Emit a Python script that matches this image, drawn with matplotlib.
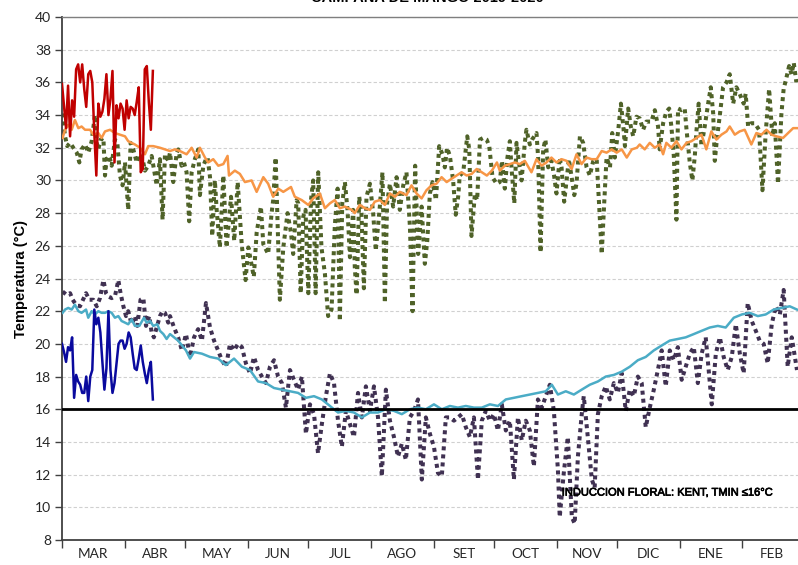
import matplotlib
matplotlib.use("Agg")
import matplotlib.pyplot as plt
import matplotlib.patheffects as pe

# ---------------- DATA (days counted from 1 March) ----------------
months = ["MAR", "ABR", "MAY", "JUN", "JUL", "AGO", "SET", "OCT", "NOV", "DIC", "ENE", "FEB"]
month_start = [0, 31, 61, 92, 122, 153, 184, 214, 245, 275, 306, 337, 366]

# Tmax historical (orange)
tmax_hist_day = [0.3, 1.5, 3.1, 4.8, 6.4, 8.1, 9.7, 11.4, 13.9, 15.5, 18.0, 19.6, 21.3, 23.8, 26.2, 28.7,
                 31.2, 32.8, 36.1, 38.6, 41.1, 42.7, 45.2, 48.5, 51.0, 53.5, 55.9, 58.4, 61.7, 64.2, 66.7, 68.3,
                 70.8, 72.4, 74.9, 77.4, 79.9, 82.0, 82.7, 85.6, 88.1, 90.6, 93.9, 96.4, 99.7, 102.1, 104.6,
                 107.1, 109.6, 113.4, 115.3, 118.7, 122.0, 124.4, 127.7, 130.2, 132.7, 135.1, 137.6, 140.1, 143.4,
                 145.0, 147.5, 150.0, 152.5, 154.9, 157.4, 159.9, 162.4, 164.9, 167.3, 170.6, 173.1, 175.6,
                 178.1, 180.5, 183.0, 185.5, 188.0, 190.5, 192.9, 195.4, 197.9, 200.4, 202.9, 205.4, 207.9,
                 210.4, 212.9, 215.4,
                 216.8, 219.3, 221.8, 224.3, 226.7, 229.2, 232.5, 235.0, 237.5, 239.9, 242.4, 244.9, 247.4,
                 249.9, 252.4, 254.8, 257.3, 259.8, 262.3, 264.8, 267.3, 269.7, 272.2, 274.7, 277.2, 279.7,
                 282.2, 284.7,
                 286.1, 288.6, 291.1, 293.6, 296.0, 297.7, 299.3, 301.8, 304.3, 306.8, 309.3, 311.7, 314.2,
                 316.7, 319.1, 321.6, 324.1, 326.6, 329.1, 330.7, 333.2, 335.6, 338.1, 341.4, 343.9, 346.4,
                 348.9, 351.4, 353.8, 357.1, 359.6, 362.1, 364.4]
tmax_hist = [32.6, 33.1, 33.4, 33.1, 33.7, 33.2, 33.3, 33.1, 33.1, 32.8, 32.9, 32.6, 33.0, 33.1, 32.9, 32.8,
             32.7, 32.4, 32.2, 32.0, 31.6, 32.1, 32.1, 32.0, 31.9, 31.8, 31.9, 31.8, 31.6, 32.0, 31.4, 32.0,
             31.4, 31.1, 31.3, 30.9, 31.0, 31.5, 30.3, 30.6, 30.4, 29.9, 30.0, 29.3, 30.2, 29.8, 29.0,
             29.5, 29.3, 29.6, 29.0, 28.8, 28.5, 28.9, 29.2, 28.3, 28.6, 28.8, 28.3, 28.4, 28.2,
             28.0, 28.5, 28.3, 28.2, 28.7, 28.8, 28.5, 29.2, 29.0, 29.3, 29.1, 29.7, 29.2,
             28.9, 29.4, 29.7, 29.8, 30.2, 29.9, 30.1, 30.3, 30.5, 30.3, 30.4, 30.7, 30.5,
             30.3, 30.6, 31.1,
             30.6, 30.9, 31.0, 31.1, 31.0, 31.2, 30.5, 31.3, 30.9, 31.1, 31.4, 31.1, 31.3,
             31.2, 30.7, 31.6, 31.0, 31.4, 31.3, 31.3, 31.8, 31.7, 31.9, 31.7, 31.9, 31.4,
             31.9, 32.0,
             32.2, 31.9, 32.3, 32.0, 32.2, 31.6, 32.3, 32.0, 32.4, 31.9, 32.3, 32.4, 32.6,
             32.8, 31.9, 33.0, 32.5, 32.8, 33.0, 33.3, 32.8, 33.0, 33.1, 32.2, 32.9, 32.8,
             33.1, 32.8, 32.7, 32.6, 32.9, 33.2, 33.2]

# Tmax current season (green dotted)
tmax_cur_day = [0.3, 1.5, 2.6, 4.0, 5.6, 7.3, 8.6, 9.7, 11.4, 13.0, 14.7, 16.3, 17.2, 18.0, 19.1, 20.5, 21.3,
                22.1, 23.4, 24.6, 26.2, 27.4, 28.7, 30.0, 31.2, 32.8, 34.0, 35.3, 37.0, 38.3, 39.9, 41.1, 42.7,
                44.4, 45.5, 46.9, 48.5, 49.8, 51.0, 52.6, 53.5, 55.1, 56.8, 57.6, 59.2, 60.4, 61.7, 63.0, 64.2,
                65.8, 67.5, 68.3, 70.0, 71.3,
                72.1, 73.3, 74.4, 75.7, 76.6, 78.2, 79.9, 81.5, 83.7, 85.3, 87.0, 89.0, 90.9, 92.3, 95.0, 96.4,
                98.5, 99.7, 102.1, 103.8, 104.6, 105.8, 106.8, 107.9, 109.6, 111.7, 113.4, 114.5, 116.2, 117.0,
                118.2, 119.5, 120.6, 122.0, 123.3, 124.4, 125.6, 126.9, 128.5, 130.2, 131.8, 133.5, 135.1,
                136.5, 137.6, 138.8, 140.1, 141.4, 142.6, 144.2,
                145.0, 145.9, 147.2, 148.3, 149.5, 150.8, 152.5, 154.1, 155.4, 157.4, 158.7, 159.9, 161.0,
                162.4, 164.0, 165.7, 167.3, 169.0, 170.6, 172.3, 173.6, 174.9, 176.4, 178.1, 179.7, 180.9,
                182.2, 183.5, 185.2, 186.8, 188.4, 189.6, 190.7, 192.1, 193.7, 195.0, 196.2, 197.0, 198.7,
                200.7, 201.7, 202.8, 204.5, 205.6, 207.0, 208.6, 210.3, 211.6, 213.2, 215.2,
                216.8, 217.9, 219.3, 220.6, 221.8, 222.6, 224.0, 225.1, 226.2, 227.6, 229.2, 230.0, 231.7,
                232.8, 235.0, 235.8, 237.0, 238.3, 239.4, 240.8, 242.4, 243.7, 244.9, 246.5, 247.4, 248.7,
                249.9, 251.0, 252.4, 253.7, 254.8, 256.5, 258.1, 259.8, 261.4, 263.1, 264.8, 265.9, 267.3,
                268.6, 269.7, 271.4, 272.5, 273.8, 275.5, 276.8, 278.0, 278.8, 280.4, 281.7, 282.9, 284.5,
                286.1, 287.8, 289.4, 291.9, 293.6, 295.2, 296.0, 297.7, 299.3, 300.7, 301.8, 303.0, 304.3,
                305.1, 306.8, 308.4, 309.3, 310.9, 312.2, 313.4, 314.2, 315.3, 316.7, 318.3, 320.0, 321.3,
                322.5, 323.3, 324.4, 325.7, 327.4, 329.1, 330.7, 332.4, 334.0, 335.6, 337.6, 338.6, 339.8,
                341.4, 343.1, 345.2, 346.9, 348.5, 350.2, 351.8, 353.0, 354.6, 356.3, 357.4, 358.8, 360.1,
                361.3, 362.4, 363.7]
tmax_cur = [34.1, 32.7, 32.1, 32.3, 32.0, 31.7, 31.1, 31.9, 32.2, 31.7, 32.4, 34.0, 32.3, 31.9, 32.5, 32.6, 30.3,
            31.3, 31.5, 30.9, 32.5, 32.3, 30.3, 29.7, 31.1, 28.2, 32.3, 31.9, 31.1, 31.6, 31.3, 30.6, 30.9,
            31.5, 30.7, 29.7, 31.3, 27.6, 31.6, 31.2, 31.7, 29.9, 31.7, 31.9, 30.9, 31.1, 30.5, 27.5, 30.5,
            31.3, 31.9, 29.1, 30.9, 31.3,
            31.4, 30.2, 26.6, 30.0, 28.2, 25.9, 30.3, 25.9, 29.0, 26.3, 29.9, 26.1, 23.9, 25.9, 24.1, 26.8,
            28.4, 26.1, 25.5, 28.0, 28.8, 31.4, 27.2, 22.7, 25.9, 28.0, 26.8, 25.5, 28.8, 28.6,
            23.1, 27.8, 28.2, 23.1, 28.8, 30.0, 23.1, 30.5, 25.9, 24.3, 21.7, 22.1, 27.2,
            29.5, 21.4, 28.6, 29.9, 28.2, 25.3, 28.2,
            24.7, 23.0, 29.0, 28.0, 23.4, 29.0, 29.8, 28.0, 25.7, 28.4, 30.5, 22.5, 28.6,
            29.8, 28.4, 30.2, 28.2, 29.7, 30.5, 27.2, 22.0, 30.9, 25.5, 28.4, 24.9, 26.3,
            29.2, 29.9, 28.8, 32.1, 31.6, 30.8, 32.0, 31.5, 30.0, 27.9, 29.0, 30.3, 30.5,
            32.7, 31.9, 26.6, 29.2, 28.8, 32.5, 32.6, 32.5, 32.1, 30.2, 29.8,
            29.9, 31.2, 29.5, 31.4, 32.4, 30.8, 28.6, 32.3, 31.2, 30.0, 32.3, 33.1, 32.2,
            32.5, 32.9, 31.4, 25.6, 31.9, 32.5, 30.8, 31.2, 30.3, 29.2, 31.4, 30.8, 28.7,
            30.0, 31.3, 30.2, 29.1, 29.8, 32.7, 32.3, 30.8, 30.3, 31.2, 31.3, 28.8, 25.5,
            28.8, 31.4, 30.8, 32.9, 31.4, 33.1, 34.7, 33.3, 32.1, 34.4, 33.3, 32.7, 33.9,
            33.8, 33.1, 33.6, 33.6, 34.3, 33.3, 31.9, 33.5, 34.2, 34.4, 33.3, 31.5, 27.6,
            34.4, 34.3, 34.4, 33.1, 31.1, 30.0, 31.5, 33.0, 34.7, 32.1, 33.3, 34.7, 35.7,
            34.1, 31.2, 32.6, 33.9, 35.7, 36.0, 36.5, 34.7, 35.7, 35.3, 34.7, 35.3, 33.3,
            33.5, 33.5, 33.1, 29.4, 32.9, 35.6, 32.7, 33.5, 29.8, 34.1, 35.6, 36.3, 37.0,
            36.5, 37.2, 36.0]

# Tmax early record (red)
tmax_red_day = [0, 2, 3, 4, 5, 6, 7, 8, 9, 10, 11, 12, 13, 14, 15, 16, 17, 18, 19, 20, 21, 22, 23, 24, 25,
                26, 27, 28, 29, 30, 31, 32, 33, 34, 35, 36, 37, 38, 39, 40, 41, 42, 43, 44, 45]
tmax_red = [35.9, 33.2, 35.8, 32.7, 34.9, 33.9, 36.8, 37.1, 36.0, 37.1, 35.6, 34.5, 36.5, 36.7, 36.0, 32.9,
            30.3, 34.7, 33.9, 34.2, 35.0, 36.5, 34.0, 35.0, 36.7, 31.1, 34.6, 33.8, 34.7, 34.4, 33.1, 34.9,
            33.8, 34.5, 34.4, 34.0, 34.8, 35.7, 30.5, 30.7, 36.8, 37.0, 34.8, 33.1, 36.7]

# Tmin early record (dark blue)
tmin_blue_day = list(range(46))
tmin_blue = [20.0, 19.5, 18.9, 19.8, 19.6, 20.4, 16.7, 18.1, 17.7, 17.5, 17.0, 17.0, 18.0, 16.5, 18.0, 18.4,
             22.1, 21.2, 21.6, 20.7, 18.9, 17.2, 18.5, 22.0, 18.4, 17.0, 17.6, 18.8, 20.0, 20.2, 20.2, 19.7,
             20.0, 20.7, 20.4, 19.4, 18.5, 18.4, 19.1, 19.9, 18.9, 18.2, 17.6, 18.4, 18.9, 16.6]

# Tmin historical (cyan)
tmin_hist_day = [0.3, 1.5, 3.1, 4.8, 6.4, 8.1, 9.7, 11.9, 13.0, 14.7, 16.3, 18.0, 19.6, 21.3, 22.9, 24.6,
                 26.2, 27.9, 29.5, 31.2, 32.8, 34.5, 36.1, 38.3, 40.6, 41.9, 43.6, 45.2, 47.2, 48.5, 50.2, 51.8,
                 53.5, 57.5, 61.4, 63.4, 65.4, 69.3, 73.3, 77.3, 81.2, 85.2, 89.1, 93.1, 97.1, 101.0, 105.0,
                 108.9, 112.9, 116.9, 120.8, 124.8, 128.7, 132.7, 136.7, 140.6, 144.6, 148.5, 152.5, 156.5,
                 160.4, 164.4, 168.3, 172.3, 176.3, 180.2, 184.2, 188.1, 192.1, 196.1, 200.0, 204.0, 207.9,
                 211.9, 215.9, 219.8, 223.8, 227.7, 231.7, 235.7, 239.6, 242.6, 245.6, 249.5, 253.5, 257.4,
                 261.4, 265.4, 269.3, 273.3, 277.2, 281.2, 285.2, 289.1, 293.1, 297.0, 301.0, 305.0, 308.9,
                 312.9, 316.8, 320.8, 324.8, 328.7, 332.7, 336.7, 340.6, 344.6, 348.5, 352.5, 356.5, 360.4,
                 364.0]
tmin_hist = [21.9, 22.1, 22.2, 22.1, 22.4, 22.0, 21.9, 22.1, 21.6, 22.0, 21.8, 22.0, 21.9, 21.9, 22.0, 21.9,
             21.6, 21.7, 21.4, 21.3, 21.2, 21.5, 21.1, 21.1, 21.6, 21.3, 21.4, 21.1, 21.2, 20.8, 20.6, 20.3,
             20.6, 20.2, 19.6, 19.1, 19.5, 19.4, 19.2, 19.1, 18.7, 19.1, 18.6, 18.4, 17.7, 17.6, 17.3,
             17.2, 17.1, 17.0, 16.7, 16.8, 16.6, 16.2, 15.8, 15.9, 15.8, 15.5, 15.8, 15.8,
             16.0, 15.9, 15.7, 16.0, 16.1, 16.0, 16.3, 16.0, 16.2, 16.1, 16.2, 16.1, 16.1,
             16.3, 16.2, 16.6, 16.7, 16.8, 16.9, 17.0, 17.1, 17.5, 16.9, 17.1, 16.9, 17.2,
             17.5, 17.7, 18.0, 18.1, 18.3, 18.6, 19.0, 19.2, 19.6, 19.9, 20.2, 20.3, 20.4,
             20.6, 20.8, 21.0, 21.1, 21.0, 21.6, 21.8, 21.9, 21.7, 21.8, 22.1, 22.2, 22.3,
             22.1]

# Tmin current season (purple dotted)
tmin_cur_day = [0.3, 2.3, 4.0, 5.3, 6.9, 8.9, 11.9, 13.5, 15.5, 17.2, 18.8, 20.5, 21.8, 22.9, 24.6, 26.2,
                27.9, 29.0, 30.4, 31.7, 32.8, 34.5, 36.1, 37.3, 38.9, 40.3, 41.6, 43.2, 44.4, 45.5, 46.9,
                48.5, 49.8, 51.0, 52.6,
                53.5, 55.5, 57.5, 59.4, 61.4, 63.4, 65.4, 67.4, 69.3, 71.3, 73.3, 75.3, 77.3, 79.2, 81.2,
                83.2, 85.2, 87.2, 89.1, 91.1, 93.1, 95.1, 97.1, 99.0, 101.0, 103.0, 105.0, 107.0, 108.9,
                110.9, 112.9, 114.9, 116.9, 118.8, 120.8, 122.8, 124.8, 126.8, 128.7, 130.7, 132.7, 134.7,
                136.7, 138.6, 140.6, 142.6, 144.6, 146.6, 148.5, 150.5, 152.5, 154.5, 156.5, 158.4, 160.4,
                162.4, 164.4, 166.4, 168.3, 170.3, 172.3, 174.3, 176.3, 178.2, 180.2, 182.2, 184.2, 186.2,
                188.1, 190.1, 192.1, 194.1, 196.1, 198.0, 200.0, 202.0, 204.0, 206.0, 207.9, 209.9, 211.9,
                213.9, 215.9, 217.8, 219.8, 221.8, 223.8, 225.8, 227.7, 229.7, 231.7, 233.7, 235.7, 237.6,
                239.6, 241.6, 243.6, 245.6, 246.5, 248.5, 250.5, 252.5, 253.9, 255.5, 257.4, 258.4, 260.4,
                262.4, 263.8, 265.4, 267.3, 269.3, 271.3, 273.3, 275.3, 277.2, 279.2, 281.2, 283.2, 285.2,
                287.1, 289.1, 291.1, 293.1, 295.1, 297.0, 299.0, 301.0, 303.0, 305.0, 306.9, 308.9, 310.9,
                312.9, 314.9, 316.8, 318.8, 321.8, 323.8, 325.8, 327.7, 329.7, 331.7, 333.7, 335.7, 337.6,
                339.6, 341.6, 343.6, 345.5, 347.5, 349.5, 351.5, 353.5, 355.5, 357.4, 359.4, 361.4, 364.0]
tmin_cur = [23.2, 23.0, 23.1, 22.7, 22.4, 22.3, 23.1, 22.7, 22.7, 22.3, 22.8, 23.9, 23.1, 22.9, 22.8, 22.9,
            23.9, 23.1, 22.3, 21.7, 22.0, 21.2, 21.7, 21.1, 22.7, 22.8, 21.1, 21.7, 20.7, 20.4, 21.0,
            21.7, 22.0, 21.9, 21.3,
            21.7, 21.0, 20.4, 19.6, 20.6, 19.2, 20.4, 20.9, 20.2, 22.5, 21.0, 20.2, 19.6, 19.0, 18.6,
            20.0, 19.6, 20.0, 19.8, 18.8, 18.2, 19.2, 18.4, 18.0, 17.6, 18.6, 19.0, 18.0, 17.6,
            16.1, 18.4, 17.8, 17.2, 18.0, 14.5, 16.3, 15.7, 13.3, 15.1, 16.8, 18.2, 17.6,
            15.3, 13.7, 15.9, 15.1, 14.3, 17.0, 15.5, 17.4, 15.9, 17.4, 15.5, 11.9, 17.2,
            15.3, 14.3, 13.1, 13.9, 12.9, 15.5, 15.9, 16.6, 11.7, 15.5, 14.5, 13.7, 12.1,
            11.9, 15.5, 15.5, 15.3, 15.5, 15.7, 14.9, 14.3, 15.5, 11.7, 15.3, 15.9, 15.3,
            15.7, 14.7, 16.3, 14.7, 15.3, 11.7, 15.5, 14.1, 15.3, 14.7, 12.5, 16.6, 16.1,
            16.8, 17.5, 15.9, 12.3, 9.4, 12.1, 14.3, 9.4, 9.0, 13.1, 15.7, 16.8, 14.3,
            11.7, 11.2, 15.7, 16.8, 17.4, 16.6, 17.6, 17.0, 18.2, 15.9, 17.2, 16.8, 18.0,
            17.6, 14.9, 16.1, 17.2, 18.4, 19.6, 17.4, 19.6, 19.0, 19.8, 17.8, 18.6, 19.4,
            19.8, 17.6, 19.4, 20.4, 16.3, 19.4, 20.4, 19.2, 18.4, 19.2, 21.2, 19.4, 18.2,
            22.5, 21.4, 20.8, 20.2, 20.0, 18.8, 21.2, 22.3, 21.8, 23.3, 18.6, 20.4, 18.4]

threshold = 16
y_ticks = list(range(8, 41, 2))
title = "CAMPAÑA DE MANGO 2019-2020"
annotation = "INDUCCION FLORAL: KENT, TMIN \u226416\u00b0C"
ylabel = "Temperatura (°C)"

# ---------------- FIGURE ----------------
W, H = 798, 565
fig = plt.figure(figsize=(W / 100, H / 100), dpi=100)
ax = fig.add_axes([62 / W, 25 / H, 737 / W, 523 / H])

tick_font = ["Lato", "DejaVu Sans"]

ax.plot(tmax_cur_day, tmax_cur, color="#4F6228", lw=2.9, ls=(0, (1, 1.0)),
        dash_capstyle="butt", zorder=2)
ax.plot(tmin_cur_day, tmin_cur, color="#403152", lw=2.9, ls=(0, (1, 1.0)),
        dash_capstyle="butt", zorder=2)
ax.plot(tmax_hist_day, tmax_hist, color="#F79646", lw=1.8, zorder=3)
ax.plot(tmin_hist_day, tmin_hist, color="#4BACC6", lw=1.8, zorder=3)
ax.plot(tmax_red_day, tmax_red, color="#C00000", lw=1.8, zorder=4)
ax.plot(tmin_blue_day, tmin_blue, color="#0A0A9E", lw=1.8, zorder=4)
ax.axhline(threshold, color="black", lw=2.0, zorder=5)

ax.set_xlim(0, 365)
ax.set_ylim(8, 40)
ax.set_yticks(y_ticks)
ax.set_yticklabels([str(v) for v in y_ticks], fontfamily=tick_font, fontsize=10, color="#262626")
ax.yaxis.grid(True, color="#D0D0D0", lw=0.8, ls=(0, (3, 2)))
ax.set_axisbelow(True)

ax.set_xticks(month_start[:-1])
ax.set_xticklabels([])
mids = [(month_start[i] + month_start[i + 1]) / 2 for i in range(len(months))]
ax.set_xticks(mids, minor=True)
ax.set_xticklabels(months, minor=True, fontfamily=tick_font, fontsize=9.8, color="#262626")
ax.tick_params(axis="x", which="major", direction="out", length=6, width=1, color="#404040")
ax.tick_params(axis="x", which="minor", length=0, pad=6)
ax.tick_params(axis="y", direction="out", length=5, width=1, color="#404040", pad=3)

for s in ("left", "bottom"):
    ax.spines[s].set_color("#404040")
    ax.spines[s].set_linewidth(1.3)
ax.spines["top"].set_color("#7F7F7F")
ax.spines["top"].set_linewidth(1.0)
ax.spines["right"].set_visible(False)

ax.set_ylabel(ylabel, fontfamily=["Liberation Sans", "DejaVu Sans"], fontweight="bold",
              fontsize=10.5, labelpad=5)

ax.text(247.5, 10.9, annotation, fontfamily=["Liberation Sans", "DejaVu Sans"],
        fontsize=8.0, ha="left", va="center", color="black", zorder=6,
        path_effects=[pe.withStroke(linewidth=0.5, foreground="black")])

fig.text(0.536, 1 - 2.5 / H, title, ha="center", va="baseline", fontsize=10.5,
         fontweight="bold", fontfamily=["Liberation Sans", "DejaVu Sans"])

fig.savefig("out.png", dpi=100)
